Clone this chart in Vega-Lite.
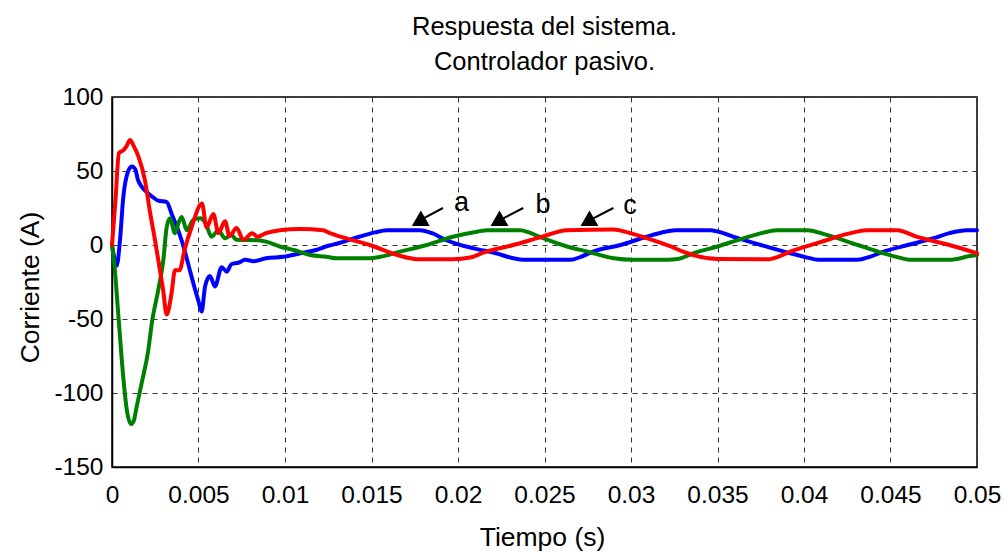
{
  "$schema": "https://vega.github.io/schema/vega-lite/v6.json",
  "width": 865,
  "height": 370,
  "autosize": "none",
  "padding": {"left": 112, "top": 97, "right": 31, "bottom": 85},
  "background": "white",
  "config": {
    "view": {"stroke": "black", "strokeWidth": 1.5},
    "font": "Liberation Sans, Arial, sans-serif"
  },
  "title": {
    "text": ["Respuesta del sistema.", "Controlador pasivo."],
    "fontSize": 25.5,
    "fontWeight": "normal",
    "color": "black",
    "lineHeight": 35,
    "anchor": "middle",
    "baseline": "alphabetic",
    "offset": 29,
    "dy": 40,
    "font": "Liberation Sans, Arial, sans-serif"
  },
  "datasets": {
    "curves": [
      {"f": "a", "t": 0, "v": 0},
      {"f": "a", "t": 0.00012, "v": -8},
      {"f": "a", "t": 0.00027, "v": -14},
      {"f": "a", "t": 0.00046, "v": 3},
      {"f": "a", "t": 0.00065, "v": 32},
      {"f": "a", "t": 0.00094, "v": 50},
      {"f": "a", "t": 0.00115, "v": 53},
      {"f": "a", "t": 0.00135, "v": 51},
      {"f": "a", "t": 0.0015, "v": 44},
      {"f": "a", "t": 0.00208, "v": 35},
      {"f": "a", "t": 0.0024, "v": 32},
      {"f": "a", "t": 0.00266, "v": 30},
      {"f": "a", "t": 0.00316, "v": 29},
      {"f": "a", "t": 0.00345, "v": 21},
      {"f": "a", "t": 0.00403, "v": 3},
      {"f": "a", "t": 0.0045, "v": -17},
      {"f": "a", "t": 0.0048, "v": -30},
      {"f": "a", "t": 0.005, "v": -38},
      {"f": "a", "t": 0.00518, "v": -45},
      {"f": "a", "t": 0.00538, "v": -28},
      {"f": "a", "t": 0.00566, "v": -21},
      {"f": "a", "t": 0.00595, "v": -28},
      {"f": "a", "t": 0.00634, "v": -15},
      {"f": "a", "t": 0.00663, "v": -18},
      {"f": "a", "t": 0.0069, "v": -13},
      {"f": "a", "t": 0.0073, "v": -12},
      {"f": "a", "t": 0.0077, "v": -10},
      {"f": "a", "t": 0.0082, "v": -11},
      {"f": "a", "t": 0.0089, "v": -9},
      {"f": "a", "t": 0.0099, "v": -8},
      {"f": "a", "t": 0.0109, "v": -5.6},
      {"f": "a", "t": 0.0118, "v": -3.4},
      {"f": "a", "t": 0.0125, "v": -0.5},
      {"f": "a", "t": 0.0132, "v": 1.5},
      {"f": "a", "t": 0.0143, "v": 5.6},
      {"f": "a", "t": 0.0152, "v": 8.5},
      {"f": "a", "t": 0.0159, "v": 10},
      {"f": "a", "t": 0.0178, "v": 10},
      {"f": "a", "t": 0.0185, "v": 8},
      {"f": "a", "t": 0.0193, "v": 3.4},
      {"f": "a", "t": 0.0209, "v": -2.3},
      {"f": "a", "t": 0.0222, "v": -5.6},
      {"f": "a", "t": 0.0232, "v": -9},
      {"f": "a", "t": 0.0238, "v": -10},
      {"f": "a", "t": 0.0265, "v": -10},
      {"f": "a", "t": 0.0271, "v": -8},
      {"f": "a", "t": 0.0278, "v": -4.5},
      {"f": "a", "t": 0.0294, "v": 0},
      {"f": "a", "t": 0.0309, "v": 5.6},
      {"f": "a", "t": 0.032, "v": 9},
      {"f": "a", "t": 0.0326, "v": 10},
      {"f": "a", "t": 0.0346, "v": 10},
      {"f": "a", "t": 0.0352, "v": 8.5},
      {"f": "a", "t": 0.0359, "v": 5.6},
      {"f": "a", "t": 0.0375, "v": 0},
      {"f": "a", "t": 0.0392, "v": -5.6},
      {"f": "a", "t": 0.0402, "v": -8.5},
      {"f": "a", "t": 0.0408, "v": -10},
      {"f": "a", "t": 0.0431, "v": -10},
      {"f": "a", "t": 0.0438, "v": -8},
      {"f": "a", "t": 0.0446, "v": -4.5},
      {"f": "a", "t": 0.046, "v": 0},
      {"f": "a", "t": 0.0475, "v": 4.6},
      {"f": "a", "t": 0.0484, "v": 8},
      {"f": "a", "t": 0.0494, "v": 10},
      {"f": "a", "t": 0.05, "v": 10},

      {"f": "b", "t": 0, "v": 0},
      {"f": "b", "t": 0.00015, "v": -15},
      {"f": "b", "t": 0.00037, "v": -48},
      {"f": "b", "t": 0.00065, "v": -89},
      {"f": "b", "t": 0.00085, "v": -111},
      {"f": "b", "t": 0.0011, "v": -121},
      {"f": "b", "t": 0.00125, "v": -119},
      {"f": "b", "t": 0.00143, "v": -109},
      {"f": "b", "t": 0.00172, "v": -93},
      {"f": "b", "t": 0.0021, "v": -71},
      {"f": "b", "t": 0.0023, "v": -53},
      {"f": "b", "t": 0.00268, "v": -30},
      {"f": "b", "t": 0.00297, "v": -10},
      {"f": "b", "t": 0.00316, "v": 12},
      {"f": "b", "t": 0.00335, "v": 18},
      {"f": "b", "t": 0.00364, "v": 8},
      {"f": "b", "t": 0.00385, "v": 15},
      {"f": "b", "t": 0.00403, "v": 19},
      {"f": "b", "t": 0.00432, "v": 10},
      {"f": "b", "t": 0.0047, "v": 17},
      {"f": "b", "t": 0.0051, "v": 18},
      {"f": "b", "t": 0.0054, "v": 15},
      {"f": "b", "t": 0.00576, "v": 5.6},
      {"f": "b", "t": 0.00615, "v": 10},
      {"f": "b", "t": 0.00653, "v": 4.5},
      {"f": "b", "t": 0.0069, "v": 6.8},
      {"f": "b", "t": 0.0072, "v": 3.5},
      {"f": "b", "t": 0.008, "v": 3.4},
      {"f": "b", "t": 0.0089, "v": 2.3},
      {"f": "b", "t": 0.0097, "v": -1},
      {"f": "b", "t": 0.0105, "v": -3.4},
      {"f": "b", "t": 0.01145, "v": -6.8},
      {"f": "b", "t": 0.0124, "v": -8},
      {"f": "b", "t": 0.013, "v": -9},
      {"f": "b", "t": 0.0149, "v": -9},
      {"f": "b", "t": 0.0155, "v": -8},
      {"f": "b", "t": 0.01665, "v": -4.5},
      {"f": "b", "t": 0.0182, "v": 0},
      {"f": "b", "t": 0.0197, "v": 5.6},
      {"f": "b", "t": 0.0211, "v": 9},
      {"f": "b", "t": 0.0217, "v": 10},
      {"f": "b", "t": 0.0236, "v": 10},
      {"f": "b", "t": 0.0241, "v": 8.5},
      {"f": "b", "t": 0.0247, "v": 5.6},
      {"f": "b", "t": 0.0263, "v": -1},
      {"f": "b", "t": 0.0275, "v": -4.5},
      {"f": "b", "t": 0.029, "v": -9},
      {"f": "b", "t": 0.0301, "v": -10},
      {"f": "b", "t": 0.0321, "v": -10},
      {"f": "b", "t": 0.0327, "v": -9.5},
      {"f": "b", "t": 0.0336, "v": -5.6},
      {"f": "b", "t": 0.035, "v": -1},
      {"f": "b", "t": 0.0365, "v": 4.5},
      {"f": "b", "t": 0.0379, "v": 9},
      {"f": "b", "t": 0.0384, "v": 10},
      {"f": "b", "t": 0.0402, "v": 10},
      {"f": "b", "t": 0.0413, "v": 6.8},
      {"f": "b", "t": 0.0431, "v": 0},
      {"f": "b", "t": 0.0446, "v": -5.6},
      {"f": "b", "t": 0.0455, "v": -8.5},
      {"f": "b", "t": 0.0461, "v": -10},
      {"f": "b", "t": 0.0484, "v": -10},
      {"f": "b", "t": 0.0496, "v": -7.5},
      {"f": "b", "t": 0.05, "v": -6.8},

      {"f": "c", "t": 0, "v": 0},
      {"f": "c", "t": 0.0002, "v": 30},
      {"f": "c", "t": 0.0004, "v": 62},
      {"f": "c", "t": 0.00065, "v": 64},
      {"f": "c", "t": 0.00085, "v": 67},
      {"f": "c", "t": 0.00104, "v": 71},
      {"f": "c", "t": 0.00125, "v": 67},
      {"f": "c", "t": 0.00152, "v": 60},
      {"f": "c", "t": 0.0019, "v": 44},
      {"f": "c", "t": 0.0022, "v": 22},
      {"f": "c", "t": 0.00249, "v": 3},
      {"f": "c", "t": 0.00277, "v": -17},
      {"f": "c", "t": 0.00295, "v": -30},
      {"f": "c", "t": 0.00316, "v": -47},
      {"f": "c", "t": 0.00345, "v": -32},
      {"f": "c", "t": 0.00364, "v": -17},
      {"f": "c", "t": 0.0039, "v": -17},
      {"f": "c", "t": 0.0042, "v": -3},
      {"f": "c", "t": 0.0046, "v": 12},
      {"f": "c", "t": 0.0052, "v": 28},
      {"f": "c", "t": 0.00547, "v": 12},
      {"f": "c", "t": 0.00586, "v": 21},
      {"f": "c", "t": 0.00615, "v": 8},
      {"f": "c", "t": 0.00653, "v": 16},
      {"f": "c", "t": 0.0068, "v": 6},
      {"f": "c", "t": 0.0072, "v": 11.5},
      {"f": "c", "t": 0.0076, "v": 3.4},
      {"f": "c", "t": 0.0081, "v": 8},
      {"f": "c", "t": 0.0084, "v": 5.6},
      {"f": "c", "t": 0.0089, "v": 8},
      {"f": "c", "t": 0.0097, "v": 10},
      {"f": "c", "t": 0.0109, "v": 10.8},
      {"f": "c", "t": 0.0122, "v": 10},
      {"f": "c", "t": 0.0126, "v": 8},
      {"f": "c", "t": 0.0132, "v": 5.6},
      {"f": "c", "t": 0.0149, "v": 0},
      {"f": "c", "t": 0.0165, "v": -6.8},
      {"f": "c", "t": 0.0178, "v": -9.7},
      {"f": "c", "t": 0.0197, "v": -9.7},
      {"f": "c", "t": 0.0207, "v": -8.5},
      {"f": "c", "t": 0.0215, "v": -5},
      {"f": "c", "t": 0.0232, "v": 0},
      {"f": "c", "t": 0.0247, "v": 5},
      {"f": "c", "t": 0.0263, "v": 10},
      {"f": "c", "t": 0.029, "v": 10.5},
      {"f": "c", "t": 0.0298, "v": 8.5},
      {"f": "c", "t": 0.0309, "v": 4.7},
      {"f": "c", "t": 0.0323, "v": -1},
      {"f": "c", "t": 0.033, "v": -4.5},
      {"f": "c", "t": 0.035, "v": -9.5},
      {"f": "c", "t": 0.0379, "v": -9.7},
      {"f": "c", "t": 0.0385, "v": -8},
      {"f": "c", "t": 0.0392, "v": -4.5},
      {"f": "c", "t": 0.0408, "v": 1.4},
      {"f": "c", "t": 0.0427, "v": 8},
      {"f": "c", "t": 0.0436, "v": 10},
      {"f": "c", "t": 0.0454, "v": 10},
      {"f": "c", "t": 0.0465, "v": 5.6},
      {"f": "c", "t": 0.0484, "v": 0},
      {"f": "c", "t": 0.05, "v": -5.6}
    ],
    "arrows": [
      {"lbl": "a", "t": 0.01913, "v": 25, "t2": 0.0176, "v2": 15.5, "th": 0.01785, "vh": 16.3, "tl": 0.0202, "vl": 28.4},
      {"lbl": "b", "t": 0.02377, "v": 25, "t2": 0.0222, "v2": 15.5, "th": 0.0224, "vh": 16.3, "tl": 0.02491, "vl": 27},
      {"lbl": "c", "t": 0.02898, "v": 25, "t2": 0.0274, "v2": 15.5, "th": 0.0276, "vh": 16.3, "tl": 0.02994, "vl": 26.5}
    ]
  },
  "layer": [
    {
      "data": {"name": "curves"},
      "mark": {"type": "line", "strokeWidth": 4, "strokeJoin": "round", "strokeCap": "round", "interpolate": "monotone"},
      "encoding": {
        "x": {
          "field": "t", "type": "quantitative",
          "scale": {"domain": [0, 0.05], "nice": false},
          "axis": {
            "values": [0, 0.005, 0.01, 0.015, 0.02, 0.025, 0.03, 0.035, 0.04, 0.045, 0.05],
            "labelExpr": "'' + datum.value",
            "title": "Tiempo (s)",
            "titleFontSize": 26.5, "titleFontWeight": "normal", "titleColor": "black",
            "titleX": 430, "titleY": 70, "titleBaseline": "middle", "titleAlign": "center",
            "labelFontSize": 24.5, "labelColor": "black", "labelPadding": 16,
            "labelFlush": false, "labelOverlap": false,
            "ticks": false,
            "domainColor": "black", "domainWidth": 1.5,
            "grid": true, "gridDash": [5, 5], "gridColor": "#333333", "gridWidth": 1
          }
        },
        "y": {
          "field": "v", "type": "quantitative",
          "scale": {"domain": [-150, 100], "nice": false},
          "axis": {
            "values": [-150, -100, -50, 0, 50, 100],
            "labelExpr": "'' + datum.value",
            "title": "Corriente (A)",
            "titleFontSize": 26.5, "titleFontWeight": "normal", "titleColor": "black",
            "titleX": -82, "titleY": 190, "titleAngle": -90, "titleBaseline": "middle", "titleAlign": "center",
            "labelFontSize": 24.5, "labelColor": "black", "labelPadding": 9,
            "labelFlush": false, "labelOverlap": false,
            "ticks": false,
            "domainColor": "black", "domainWidth": 1.5,
            "grid": true, "gridDash": [5, 5], "gridColor": "#333333", "gridWidth": 1
          }
        },
        "color": {
          "field": "f", "type": "nominal",
          "scale": {"domain": ["a", "b", "c"], "range": ["#0000ff", "#008000", "#ff0000"]},
          "legend": null
        }
      }
    },
    {
      "data": {"name": "arrows"},
      "mark": {"type": "rule", "color": "black", "strokeWidth": 2},
      "encoding": {
        "x": {"field": "t", "type": "quantitative"},
        "y": {"field": "v", "type": "quantitative"},
        "x2": {"field": "t2"},
        "y2": {"field": "v2"}
      }
    },
    {
      "data": {"name": "arrows"},
      "mark": {"type": "point", "shape": "triangle", "filled": true, "color": "black", "opacity": 1, "size": 320, "angle": 240},
      "encoding": {
        "x": {"field": "th", "type": "quantitative"},
        "y": {"field": "vh", "type": "quantitative"}
      }
    },
    {
      "data": {"name": "arrows"},
      "mark": {"type": "text", "fontSize": 27, "color": "black", "align": "center", "baseline": "middle"},
      "encoding": {
        "x": {"field": "tl", "type": "quantitative"},
        "y": {"field": "vl", "type": "quantitative"},
        "text": {"field": "lbl"}
      }
    }
  ]
}
